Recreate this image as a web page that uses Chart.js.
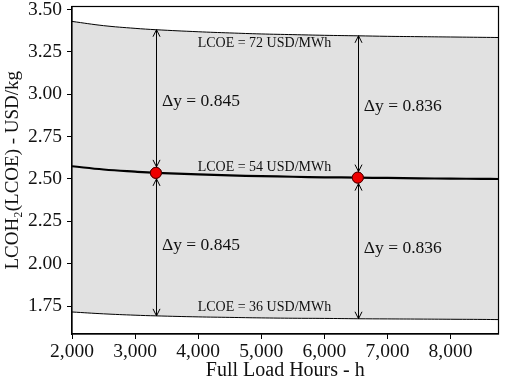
<!DOCTYPE html>
<html><head><meta charset="utf-8">
<script src="https://cdn.jsdelivr.net/npm/chart.js@4/dist/chart.umd.min.js"></script>
<style>html,body{margin:0;padding:0;background:#fff}#wrap{width:505px;height:385px}</style>
</head><body><div id="wrap"><canvas id="c" width="505" height="385"></canvas></div>
<script>
const hours = [2000, 2500, 3000, 3330, 4000, 4500, 5000, 5500, 6000, 6530, 7000, 7500, 8000, 8500, 8760];
const lcoe72 = [3.430, 3.405, 3.389, 3.381, 3.369, 3.362, 3.356, 3.352, 3.348, 3.345, 3.342, 3.340, 3.338, 3.336, 3.335];
const lcoe54 = [2.575, 2.556, 2.543, 2.536, 2.527, 2.521, 2.517, 2.513, 2.510, 2.508, 2.506, 2.504, 2.502, 2.501, 2.500];
const lcoe36 = [1.715, 1.704, 1.696, 1.692, 1.686, 1.683, 1.680, 1.678, 1.677, 1.675, 1.674, 1.673, 1.672, 1.671, 1.670];
const markerHours = [3330, 6530];
const markerValues = [2.536, 2.508];
const deltaLabels = ["Δy = 0.845", "Δy = 0.836"];
const curveLabels = ["LCOE = 72 USD/MWh", "LCOE = 54 USD/MWh", "LCOE = 36 USD/MWh"];
const xTicks = [2000, 3000, 4000, 5000, 6000, 7000, 8000];
const yTicks = [1.75, 2.00, 2.25, 2.50, 2.75, 3.00, 3.25, 3.50];

const upperAt = [3.381, 3.345];
const lowerAt = [1.692, 1.675];

const serif = "'Liberation Serif', 'DejaVu Serif', serif";
const pts = a => hours.map((h, i) => ({x: h, y: a[i]}));

const overlay = {
  id: 'overlay',
  afterDatasetsDraw(chart) {
    const {ctx, chartArea: ca, scales: {x, y}} = chart;
    ctx.save();
    ctx.strokeStyle = '#000'; ctx.lineWidth = 1;
    const head = (px, py, dir) => {
      ctx.beginPath();
      ctx.moveTo(px - 3.5, py - 7 * dir);
      ctx.lineTo(px, py);
      ctx.lineTo(px + 3.5, py - 7 * dir);
      ctx.stroke();
    };
    const arrow = (xv, y1, y2) => {
      const px = Math.round(x.getPixelForValue(xv)) + 0.5;
      const p1 = y.getPixelForValue(y1), p2 = y.getPixelForValue(y2);
      ctx.beginPath(); ctx.moveTo(px, p1); ctx.lineTo(px, p2); ctx.stroke();
      head(px, p1, -1); head(px, p2, 1);
    };
    markerHours.forEach((h, i) => {
      const my = y.getPixelForValue(markerValues[i]);
      arrow(h, upperAt[i], y.getValueForPixel(my - 6));
      arrow(h, y.getValueForPixel(my + 6), lowerAt[i]);
    });
    const meta = chart.getDatasetMeta(3);
    meta.data.forEach(el => el.draw(ctx));
    ctx.fillStyle = '#111';
    ctx.font = '14px ' + serif;
    ctx.textAlign = 'center'; ctx.textBaseline = 'middle';
    const lx = x.getPixelForValue(5050);
    ctx.fillText(curveLabels[0], lx, y.getPixelForValue(3.30));
    ctx.fillText(curveLabels[1], lx, y.getPixelForValue(2.567));
    ctx.fillText(curveLabels[2], lx, y.getPixelForValue(1.743));
    ctx.font = '17.5px ' + serif;
    ctx.textAlign = 'left';
    markerHours.forEach((h, i) => {
      const px = x.getPixelForValue(h) + 6;
      ctx.fillText(deltaLabels[i], px, y.getPixelForValue(i ? 2.93 : 2.96));
      ctx.fillText(deltaLabels[i], px, y.getPixelForValue(i ? 2.09 : 2.11));
    });
    ctx.strokeStyle = '#000'; ctx.lineWidth = 1.2;
    ctx.strokeRect(ca.left, ca.top, ca.right - ca.left, ca.bottom - ca.top);
    ctx.restore();
  }
};

new Chart(document.getElementById('c'), {
  type: 'line',
  data: {
    datasets: [
      {data: pts(lcoe72), borderColor: '#000', borderWidth: 1, pointRadius: 0, fill: 2, backgroundColor: '#e1e1e1', tension: 0.4},
      {data: pts(lcoe54), borderColor: '#000', borderWidth: 2.2, pointRadius: 0, fill: false, tension: 0.4},
      {data: pts(lcoe36), borderColor: '#000', borderWidth: 1, pointRadius: 0, fill: false, tension: 0.4},
      {type: 'scatter', data: markerHours.map((h, i) => ({x: h, y: markerValues[i]})), pointRadius: 5.5, pointBackgroundColor: '#ee0000', pointBorderColor: '#550000', pointBorderWidth: 1}
    ]
  },
  options: {
    responsive: false, animation: false,
    layout: {padding: {top: 6, right: 4, left: 0, bottom: 0}},
    plugins: {legend: {display: false}, tooltip: {enabled: false}, filler: {drawTime: 'beforeDatasetsDraw'}},
    scales: {
      x: {
        type: 'linear', min: 2000, max: 8760,
        afterBuildTicks: s => { s.ticks = xTicks.map(v => ({value: v})); },
        afterFit: s => { s.height = 51; s.paddingLeft = 0; s.paddingRight = 0; },
        border: {color: '#000', width: 1.2},
        grid: {drawOnChartArea: false, color: '#000', tickLength: 5},
        ticks: {color: '#111', font: {family: serif, size: 19.5}, padding: 1, maxRotation: 0,
          callback: v => v.toLocaleString('en-US')},
        title: {display: true, text: 'Full Load Hours - h', color: '#111', font: {family: serif, size: 20}, padding: {top: 0, bottom: 2}}
      },
      y: {
        min: 1.585, max: 3.518,
        afterBuildTicks: s => { s.ticks = yTicks.map(v => ({value: v})); },
        afterFit: s => { s.width = 72; s.paddingTop = 0; s.paddingBottom = 0; },
        border: {color: '#000', width: 1.2},
        grid: {drawOnChartArea: false, color: '#000', tickLength: 5},
        ticks: {color: '#111', font: {family: serif, size: 19.5}, padding: 5,
          callback: v => v.toFixed(2)},
        title: {display: true, text: 'LCOH₂(LCOE) - USD/kg', color: '#111', font: {family: serif, size: 19}, padding: {top: 2, bottom: 0}}
      }
    }
  },
  plugins: [overlay]
});
</script></body></html>
